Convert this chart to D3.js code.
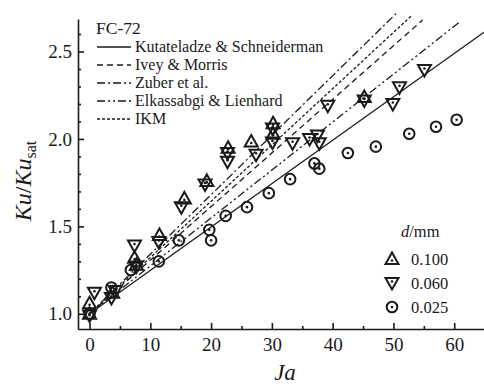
<!DOCTYPE html>
<html>
<head>
<meta charset="utf-8">
<script src="https://cdn.jsdelivr.net/npm/d3@7"></script>
</head>
<body style="margin:0">
<div id="chart"></div>
<script>
// series: [Ja, Ku/Ku_sat]
var d100 = [[0, 1.00], [0, 1.06], [3.8, 1.12], [7.4, 1.32], [7.7, 1.28], [11.5, 1.45],
  [15.6, 1.66], [19.3, 1.76], [22.8, 1.95], [26.6, 1.985], [30.2, 2.09], [30.2, 2.03], [45.2, 2.24]];
var d060 = [[0, 0.99], [0.8, 1.12], [3.6, 1.09], [4.2, 1.13], [7.4, 1.39], [7.7, 1.27],
  [11.4, 1.41], [15.1, 1.61], [19.0, 1.74], [22.7, 1.87], [22.7, 1.92], [27.4, 1.91],
  [30.1, 1.98], [30.1, 2.06], [33.4, 1.975], [36.2, 2.0], [37.5, 2.02], [37.8, 1.975],
  [39.2, 2.19], [45.2, 2.22], [49.9, 2.20], [51.0, 2.295], [55.1, 2.394]];
var d025 = [[0, 1.0], [3.6, 1.15], [6.8, 1.25], [11.4, 1.30], [14.7, 1.42], [19.7, 1.48],
  [20.0, 1.42], [22.4, 1.56], [25.9, 1.61], [29.5, 1.69], [33.0, 1.77], [37.0, 1.86],
  [37.8, 1.83], [42.5, 1.92], [47.1, 1.956], [52.6, 2.03], [57.0, 2.07], [60.4, 2.11]];

// correlations, each a straight line from (0,1)
var corrNames = ["Kutateladze & Schneiderman", "Ivey & Morris", "Zuber et al.", "Elkassabgi & Lienhard", "IKM"];
var corrLines = [
  [[0, 1], [64.9, 2.61]],
  [[0, 1], [54.8, 2.68]],
  [[0, 1], [50.7, 2.726]],
  [[0, 1], [60.9, 2.669]],
  [[0, 1], [53.1, 2.709]]
];
var corrDash = [null, "6,4", "8,3,2,3", "8,3,2,3,2,3", "3,2"];

var seriesNames = ["0.100", "0.060", "0.025"];
var xTicks = [0, 10, 20, 30, 40, 50, 60];
var xMinor = [5, 15, 25, 35, 45, 55];
var yTicks = [1.0, 1.5, 2.0, 2.5];
var yMinor = [1.1, 1.2, 1.3, 1.4, 1.6, 1.7, 1.8, 1.9, 2.1, 2.2, 2.3, 2.4, 2.6];

var W = 484, H = 384;
var ink = "#1a1a1a";
var serif = "'Liberation Serif'";

var x = d3.scaleLinear().domain([-1.9, 64.9]).range([78, 484]);
var y = d3.scaleLinear().domain([0.913, 2.686]).range([329, 19]);

var svg = d3.select("#chart").append("svg")
  .attr("width", W)
  .attr("height", H);

// every text goes through this so the font is set on the element itself
function label(parent, size) {
  return parent.append("text")
    .style("font-family", serif)
    .style("font-size", size + "px")
    .attr("fill", ink);
}

// axes: ticks point inward
svg.append("g")
  .attr("transform", "translate(0," + y.range()[0] + ")")
  .call(d3.axisBottom(x).tickValues(xTicks).tickSize(-6).tickSizeOuter(0).tickPadding(9));
svg.append("g")
  .attr("transform", "translate(0," + y.range()[0] + ")")
  .call(d3.axisBottom(x).tickValues(xMinor).tickSize(-3).tickFormat(""))
  .select(".domain").remove();
svg.append("g")
  .attr("transform", "translate(" + x.range()[0] + ",0)")
  .call(d3.axisLeft(y).tickValues(yTicks).tickSize(-6).tickSizeOuter(0).tickPadding(6).tickFormat(d3.format(".1f")));
svg.append("g")
  .attr("transform", "translate(" + x.range()[0] + ",0)")
  .call(d3.axisLeft(y).tickValues(yMinor).tickSize(-3).tickFormat(""))
  .select(".domain").remove();

svg.selectAll("g").attr("font-family", null).attr("font-size", null);
svg.selectAll(".domain, .tick line").attr("stroke", ink).attr("stroke-width", 1.6);
svg.selectAll(".tick text")
  .style("font-family", serif)
  .style("font-size", "19px")
  .attr("fill", ink);

// axis titles
label(svg, 23)
  .attr("x", 285).attr("y", 380)
  .attr("text-anchor", "middle")
  .style("font-style", "italic")
  .text("Ja");

var yl = label(svg, 24)
  .attr("transform", "translate(31,181) rotate(-90)")
  .attr("text-anchor", "middle");
yl.append("tspan").style("font-style", "italic").text("Ku");
yl.append("tspan").text("/");
yl.append("tspan").style("font-style", "italic").text("Ku");
yl.append("tspan").attr("dy", 5).style("font-size", "16px").text("sat");

// correlation lines
var line = d3.line().x(function (d) { return x(d[0]); }).y(function (d) { return y(d[1]); });
svg.append("clipPath").attr("id", "plotClip")
  .append("rect").attr("x", 78).attr("y", 0).attr("width", W - 78).attr("height", 329);
svg.append("g").attr("clip-path", "url(#plotClip)")
  .selectAll("path")
  .data(corrLines)
  .enter().append("path")
  .attr("d", line)
  .attr("fill", "none")
  .attr("stroke", ink)
  .attr("stroke-width", 1.3)
  .attr("stroke-dasharray", function (d, i) { return corrDash[i]; });

// markers
function marker(g, kind) {
  if (kind === "circle") {
    g.append("circle").attr("r", 5.3);
  } else {
    var up = kind === "up";
    var pts = up ? [[0, -6.5], [6.5, 5], [-6.5, 5]] : [[0, 6.5], [6.5, -5], [-6.5, -5]];
    g.append("path").attr("d", "M" + pts.join("L") + "Z");
  }
  g.selectAll("circle, path").attr("fill", "none").attr("stroke", ink).attr("stroke-width", 2);
  g.append("circle").attr("r", 1.3).attr("cy", kind === "circle" ? 0 : (kind === "up" ? 1.5 : -1.5)).attr("fill", ink);
}

var sets = [[d100, "up"], [d060, "down"], [d025, "circle"]];
sets.forEach(function (s) {
  svg.append("g").selectAll("g")
    .data(s[0])
    .enter().append("g")
    .attr("transform", function (d) { return "translate(" + x(d[0]) + "," + y(d[1]) + ")"; })
    .each(function () { marker(d3.select(this), s[1]); });
});

// legend for correlations
label(svg, 17.5).attr("x", 96).attr("y", 34).text("FC-72");
corrNames.forEach(function (name, i) {
  var ly = 47 + i * 18;
  svg.append("line")
    .attr("x1", 97).attr("x2", 131).attr("y1", ly).attr("y2", ly)
    .attr("stroke", ink).attr("stroke-width", 1.3)
    .attr("stroke-dasharray", corrDash[i]);
  label(svg, 16).attr("x", 135).attr("y", ly + 5).text(name);
});

// legend for diameters
var dl = label(svg, 16.5).attr("x", 401).attr("y", 237);
dl.append("tspan").style("font-style", "italic").text("d");
dl.append("tspan").text("/mm");
seriesNames.forEach(function (name, i) {
  var ly = 259 + i * 24;
  var g = svg.append("g").attr("transform", "translate(392," + ly + ")");
  marker(g, sets[i][1]);
  label(svg, 16.5).attr("x", 411).attr("y", ly + 6).text(name);
});
</script>
</body>
</html>
